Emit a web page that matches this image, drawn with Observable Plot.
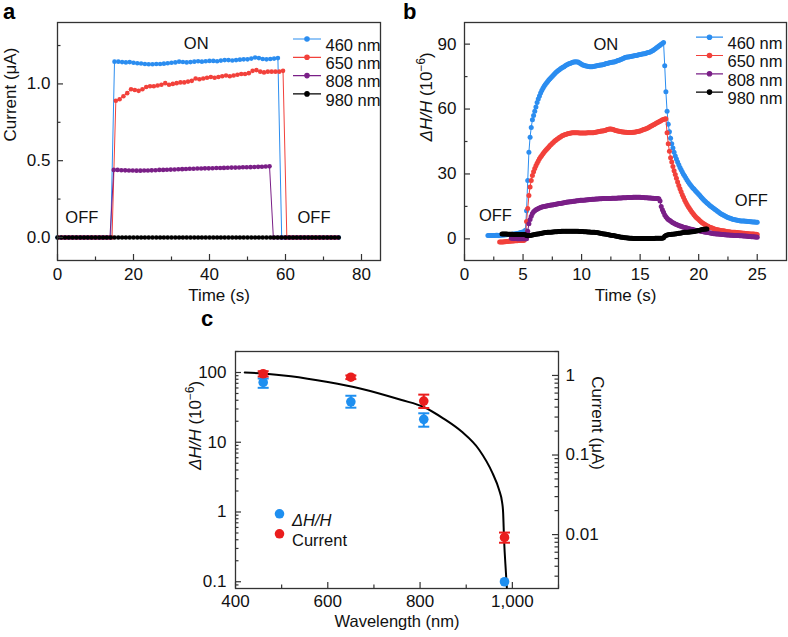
<!DOCTYPE html>
<html>
<head>
<meta charset="utf-8">
<script src="https://cdn.jsdelivr.net/npm/d3@7"></script>
<script src="https://cdn.jsdelivr.net/npm/@observablehq/plot@0.6"></script>
<style>
  body { margin: 0; background: #fff; }
  #root { position: relative; width: 788px; height: 637px; overflow: hidden; background: #fff;
          font-family: "Liberation Sans", Arial, Helvetica, sans-serif; color: #111; }
  .panel { position: absolute; }
  .panel svg { display: block; background: transparent !important; max-width: none !important; overflow: visible; }
  .letter { position: absolute; font-weight: bold; font-size: 22px; line-height: 22px; color: #000; }
</style>
</head>
<body>
<div id="root"></div>
<script>
// ======================= DATA =======================
const legendLabels = ["460 nm", "650 nm", "808 nm", "980 nm"];
const seriesColors = ["#2b8df0", "#f2413b", "#7a1f87", "#000000"];

// ---- Panel a: photocurrent vs time (1 s sampling) ----
const aTimeDomain = [0, 85];
const aCurrentDomain = [-0.15, 1.4];
const aXMajor = [0, 20, 40, 60, 80];
const aXMinor = [10, 30, 50, 70];
const aYMajor = [0, 0.5, 1.0];
const aYMinor = [0.25, 0.75, 1.25];
const aTimeStep = 1;
const aStartTimes = [0, 0.35, 0.8, 0];
const aCurrent460 = [
  0,0,0,0,0,0,0,0,0,0,0,0,0,0,0,
  1.145,1.145,1.142,1.14,1.142,1.138,1.135,1.133,1.13,1.128,
  1.128,1.13,1.13,1.132,1.135,1.138,1.14,1.145,1.143,1.14,
  1.142,1.145,1.148,1.145,1.148,1.15,1.15,1.148,1.152,1.155,
  1.155,1.153,1.155,1.158,1.16,1.16,1.165,1.172,1.168,1.162,
  1.16,1.162,1.165,1.168,
  0,0,0,0,0,0,0,0,0,0,0,0,0,0,0,0];
const aCurrent650 = [
  0,0,0,0,0,0,0,0,0,0,0,0,0,0,0,
  0.89,0.90,0.92,0.94,0.965,0.96,0.955,0.965,0.98,0.985,
  0.985,0.99,0.995,1.005,0.995,1.0,1.005,1.01,1.01,1.015,
  1.02,1.035,1.03,1.035,1.04,1.045,1.04,1.045,1.05,1.055,
  1.05,1.055,1.06,1.065,1.065,1.07,1.085,1.09,1.08,1.075,
  1.08,1.08,1.08,1.08,1.085,
  0,0,0,0,0,0,0,0,0,0,0,0,0,0];
const aCurrent808 = [
  0,0,0,0,0,0,0,0,0,0,0,0,0,0,
  0.44,0.44,0.438,0.437,0.436,0.436,0.435,0.435,0.436,0.436,
  0.437,0.438,0.44,0.44,0.441,0.442,0.443,0.444,0.445,0.446,
  0.448,0.448,0.449,0.449,0.45,0.45,0.451,0.452,0.452,0.453,
  0.454,0.455,0.455,0.456,0.457,0.457,0.458,0.459,0.46,0.461,
  0.462,0.463,
  0,0,0,0,0,0,0,0,0,0,0,0,0,0,0,0,0,0];
const aCurrent980 = [
  0,0,0,0,0,0,0,0,0,0,0,0,0,0,0,0,0,0,0,0,0,0,0,0,0,
  0,0,0,0,0,0,0,0,0,0,0,0,0,0,0,0,0,0,0,0,0,0,0,0,0,
  0,0,0,0,0,0,0,0,0,0,0,0,0,0,0,0,0,0,0,0,0,0,0,0,0];
const aNotes = [
  {label: "ON", t: 36.5, v: 1.26},
  {label: "OFF", t: 6.4, v: 0.128},
  {label: "OFF", t: 67.5, v: 0.128}
];

// ---- Panel b: ΔH/H vs time (0.1 s sampling) ----
const bTimeDomain = [0, 27.5];
const bSignalDomain = [-10, 100];
const bXMajor = [0, 5, 10, 15, 20, 25];
const bXMinor = [2.5, 7.5, 12.5, 17.5, 22.5];
const bYMajor = [0, 30, 60, 90];
const bYMinor = [15, 45, 75];
const bTimeStep = 0.1;
const bStartTimes = [2.0, 3.0, 4.0, 3.2];
const bSignal460 = [
  1.5,1.5,1.6,1.6,1.5,1.6,1.6,1.7,1.7,1.6,
  1.7,1.7,1.8,1.8,1.8,1.9,1.9,2.0,2.0,2.0,
  2.1,2.1,2.2,2.3,2.4,2.5,2.6,2.7,2.9,3.0,
  3.2,3.4,4,13,27,40,47,51.5,55,57,
  59,61,63,64.6,66,67.4,68.6,69.6,70.5,71.3,
  72,72.7,73.4,74,74.6,75.1,75.7,76.3,76.9,77.4,
  77.8,78.2,78.6,79,79.3,79.6,80,80.3,80.6,80.9,
  81.1,81.3,81.5,81.7,81.8,81.9,81.8,81.7,81.4,81,
  80.7,80.4,80.2,80,79.9,79.8,79.7,79.6,79.6,79.6,
  79.7,79.8,79.9,80,80.1,80.2,80.3,80.4,80.5,80.6,
  80.8,81,81.1,81.3,81.4,81.5,81.6,81.7,81.8,82,
  82.2,82.4,82.6,82.8,83,83.3,83.5,83.8,83.9,84,
  84.1,84.2,84.3,84.4,84.5,84.6,84.7,84.8,85,85.1,
  85.2,85.3,85.4,85.5,85.6,85.8,86,86.1,86.3,86.5,
  86.8,87.1,87.5,87.9,88.3,88.7,89.1,89.5,89.9,90.3,
  90.7,80,68,59,53,49.5,46.5,44,42,40,
  38.3,36.9,35.5,34.2,33,31.9,30.9,29.9,29,28.1,
  27.2,26.4,25.6,24.9,24.2,23.5,23,22.4,21.8,21.2,
  20.6,20,19.4,18.8,18.2,17.6,17.1,16.6,16.2,15.7,
  15.2,14.8,14.4,14,13.6,13.2,12.8,12.4,12,11.6,
  11.3,11,10.7,10.4,10.1,9.9,9.7,9.5,9.3,9.1,
  9,8.8,8.7,8.6,8.5,8.4,8.3,8.3,8.2,8.2,
  8.1,8.1,8,8,7.9,7.9,7.8,7.8,7.8,7.7,
  7.7];
const bSignal650 = [
  -1.5,-1.5,-1.4,-1.4,-1.3,-1.3,-1.2,-1.2,-1.1,-1.1,
  -1,-1,-1,-0.9,-0.9,-0.9,-0.8,-0.8,-0.8,-0.7,
  -0.7,-0.6,0,8,14,20,24,27,29.3,31,
  32.5,33.8,35,36,37,37.8,38.5,39.3,40,40.7,
  41.3,41.9,42.5,43.1,43.6,44.2,44.7,45.2,45.6,46,
  46.4,46.8,47.1,47.5,47.8,48,48.2,48.4,48.6,48.7,
  48.8,48.9,49,49,49,49,49,49,48.9,48.9,
  48.9,48.9,48.9,48.9,48.9,49,49,49,49,49.1,
  49.1,49.2,49.3,49.4,49.5,49.6,49.7,49.8,49.9,50,
  50.1,50.3,50.5,50.7,50.8,50.8,50.7,50.5,50.3,50.1,
  50,49.8,49.7,49.6,49.5,49.4,49.4,49.3,49.3,49.2,
  49.2,49.2,49.2,49.2,49.3,49.3,49.4,49.5,49.6,49.7,
  49.9,50.1,50.3,50.5,50.7,50.9,51.1,51.4,51.7,52,
  52.3,52.6,52.9,53.2,53.5,53.8,54.1,54.4,54.7,55,
  55.2,55.4,55.5,49,44,40.5,37.5,35.5,33.5,31.5,
  29.7,28,26.3,24.7,23.2,21.8,20.4,19.2,18,16.9,
  15.9,15,14.1,13.3,12.5,11.8,11.1,10.5,9.9,9.4,
  8.9,8.4,7.9,7.5,7.1,6.7,6.4,6.1,5.8,5.5,
  5.3,5.1,4.9,4.7,4.5,4.3,4.2,4.1,4,3.9,
  3.8,3.7,3.6,3.5,3.4,3.3,3.3,3.2,3.1,3.1,
  3,3,2.9,2.9,2.8,2.8,2.7,2.7,2.6,2.6,
  2.5,2.5,2.4,2.4,2.3,2.3,2.2,2.2,2.1,2.1,
  2];
const bSignal808 = [
  0.3,0.3,0.2,0.2,0.2,0.1,0.1,0.1,0,0,
  0,0,0,0,3.5,7,9,10.5,11.7,12.5,
  13,13.4,13.7,14,14.3,14.5,14.7,14.9,15,15.1,
  15.2,15.3,15.4,15.5,15.6,15.7,15.8,15.9,16,16.1,
  16.2,16.3,16.4,16.5,16.6,16.7,16.8,16.9,17,17,
  17.1,17.2,17.3,17.4,17.4,17.5,17.6,17.6,17.7,17.8,
  17.8,17.9,17.9,18,18,18.1,18.1,18.2,18.2,18.3,
  18.3,18.3,18.4,18.4,18.4,18.5,18.5,18.5,18.6,18.6,
  18.6,18.6,18.7,18.7,18.7,18.7,18.8,18.8,18.8,18.8,
  18.8,18.9,18.9,18.9,18.9,19,19,19,19,19.1,
  19.1,19.1,19.1,19.1,19.2,19.2,19.2,19.2,19.2,19.2,
  19.2,19.1,19.1,19.1,19,19,19,18.9,18.9,18.9,
  18.8,18.8,18.7,18.7,18.6,18.6,18.5,17.5,15,13.5,
  12.3,11,10.2,9.5,9,8.6,8.2,7.8,7.5,7.2,
  6.9,6.6,6.4,6.2,6,5.8,5.6,5.4,5.3,5.1,
  5,4.8,4.7,4.5,4.4,4.3,4.1,4,3.9,3.8,
  3.7,3.6,3.5,3.4,3.3,3.2,3.1,3,2.9,2.8,
  2.7,2.6,2.5,2.4,2.4,2.3,2.2,2.2,2.1,2.1,
  2,2,1.9,1.9,1.8,1.8,1.8,1.7,1.7,1.7,
  1.6,1.6,1.5,1.5,1.5,1.4,1.4,1.4,1.3,1.3,
  1.3,1.2,1.2,1.1,1.1,1,1,1,0.9,0.9,
  0.8];
const bSignal980 = [
  2.3,2.3,2.2,2.2,2.2,2.1,2.1,2.1,
  2.1,2.1,2,2,2,2,2,2,2,2,
  2,2,1.9,1.6,1.4,1.5,1.6,1.7,1.8,1.9,
  2,2.1,2.2,2.3,2.4,2.5,2.6,2.7,2.8,2.9,
  2.9,3,3,3.1,3.1,3.2,3.2,3.3,3.3,3.3,
  3.4,3.4,3.4,3.5,3.5,3.5,3.5,3.5,3.5,3.5,
  3.5,3.5,3.5,3.5,3.5,3.5,3.5,3.5,3.4,3.4,
  3.4,3.4,3.3,3.3,3.3,3.2,3.2,3.2,3.1,3.1,
  3,3,2.9,2.9,2.8,2.7,2.6,2.5,2.4,2.3,
  2.2,2.1,2,1.9,1.8,1.7,1.6,1.5,1.4,1.3,
  1.2,1.1,1,0.9,0.8,0.7,0.6,0.5,0.5,0.4,
  0.4,0.3,0.3,0.3,0.2,0.2,0.2,0.2,0.2,0.2,
  0.2,0.2,0.2,0.2,0.2,0.2,0.2,0.2,0.2,0.2,
  0.2,0.2,0.2,0.3,0.3,0.3,0.3,0.3,0.3,0.3,
  0.5,1.2,1.6,1.8,1.9,2,2,2.1,2.1,2.2,
  2.3,2.4,2.5,2.6,2.6,2.7,2.8,2.9,3,3,
  3.1,3.1,3.2,3.2,3.3,3.3,3.4,3.5,3.6,3.8,
  3.9,4,4.2,4.3,4.4,4.5,4.6,4.6];
const bNotes = [
  {label: "ON", t: 12.07, v: 89.5},
  {label: "OFF", t: 2.64, v: 10.75},
  {label: "OFF", t: 24.5, v: 17.7}
];

// ---- Panel c: wavelength dependence ----
const cWavelengthDomain = [400, 1100];
const cLeftDomain = [0.08, 200];
const cRightDomain = [0.0021, 2.0];
const cXMajor = [400, 600, 800, 1000];
const cXMinor = [500, 700, 900, 1100];
const cLeftMajor = [0.1, 1, 10, 100];
const cLeftMinor = [0.09, 0.2, 0.3, 0.4, 0.5, 0.6, 0.7, 0.8, 0.9, 2, 3, 4, 5, 6, 7, 8, 9,
                    20, 30, 40, 50, 60, 70, 80, 90, 200];
const cRightMajor = [0.01, 0.1, 1];
const cRightMinor = [0.003, 0.004, 0.005, 0.006, 0.007, 0.008, 0.009,
                     0.02, 0.03, 0.04, 0.05, 0.06, 0.07, 0.08, 0.09,
                     0.2, 0.3, 0.4, 0.5, 0.6, 0.7, 0.8, 0.9, 2];
const cWavelength = [460, 650, 808, 983];
const cDeltaH = [72, 38, 21.3, 0.1];
const cDeltaHLow = [60.3, 31.3, 16.7, 0.1];
const cDeltaHHigh = [82, 46.4, 26, 0.1];
const cCurrent = [1.05, 0.95, 0.477, 0.0092];
const cCurrentLow = [0.97, 0.9, 0.39, 0.0079];
const cCurrentHigh = [1.13, 1.0, 0.574, 0.0106];
const fitWavelength = [420, 460, 520, 600, 670, 760, 808, 850, 890, 928, 957, 971, 978, 980, 982, 986, 988];
const fitDeltaH = [100, 97, 88.5, 73, 59, 40.3, 32, 22, 14.2, 7.8, 3.6, 2.1, 1.35, 0.98, 0.41, 0.137, 0.083];
const cLegend = ["ΔH/H", "Current"];
const cColors = ["#1e8ff0", "#ea1d1d"];

// ======================= HELPERS =======================
const FONT = '"Liberation Sans", Arial, Helvetica, sans-serif';
const AXIS = "#333";
const INK = "#111";
const TICK_FS = 17, TITLE_FS = 17, NOTE_FS = 16.5;
const root = document.getElementById("root");

function baseStyle() {
  return {fontFamily: FONT, fontSize: "17px", background: "transparent", overflow: "visible", color: INK};
}
function rowsFrom(t0, dt, values) {
  return values.map((v, i) => ({t: +(t0 + i * dt).toFixed(3), v}));
}
function xTicks(values, len, innerH) {
  return Plot.ruleX(values, {x: d => d, insetTop: innerH - len, stroke: AXIS, strokeWidth: 1.2});
}
function yTicks(values, len, innerW, side = "left") {
  return Plot.ruleY(values, side === "left"
    ? {y: d => d, insetRight: innerW - len, stroke: AXIS, strokeWidth: 1.2}
    : {y: d => d, insetLeft: innerW - len, stroke: AXIS, strokeWidth: 1.2});
}
function xLabels(values, fmt, dy) {
  return Plot.text(values, {x: d => d, frameAnchor: "bottom", lineAnchor: "top", dy, text: d => fmt(d), fontSize: TICK_FS, fill: INK});
}
function yLabels(values, fmt, dx, side = "left") {
  return Plot.text(values, {y: d => d, frameAnchor: side, dx, textAnchor: side === "left" ? "end" : "start",
                            text: d => fmt(d), fontSize: TICK_FS, fill: INK});
}
function title(str, anchor, opts) {
  return Plot.text([str], {frameAnchor: anchor, text: d => d, fontSize: TITLE_FS, fill: INK, ...opts});
}
function lineDotSymbol(half) {
  return {draw(ctx, size) {
    const r = Math.sqrt(size / Math.PI);
    ctx.moveTo(-half, 0); ctx.lineTo(half, 0);
    ctx.moveTo(r, 0); ctx.arc(0, 0, r, 0, 2 * Math.PI);
  }};
}
const capSymbol = {draw(ctx, size) {
  const r = Math.sqrt(size / Math.PI);
  ctx.moveTo(-r, 0); ctx.lineTo(r, 0);
}};
function lineLegend(labels, colors, {dotDx, textDx, dy0, step, half}) {
  return labels.flatMap((lab, i) => [
    Plot.dot([lab], {frameAnchor: "top-right", dx: dotDx, dy: dy0 + i * step, symbol: lineDotSymbol(half),
                     r: 2.2, fill: colors[i], stroke: colors[i], strokeWidth: 1.2}),
    Plot.text([lab], {frameAnchor: "top-right", dx: textDx, dy: dy0 + i * step, text: d => d,
                      textAnchor: "start", fontSize: NOTE_FS, fill: INK})
  ]);
}
function seriesMarks(seriesRows, r) {
  return seriesRows.flatMap((rows, k) => [
    Plot.line(rows, {x: "t", y: "v", stroke: seriesColors[k], strokeWidth: 1}),
    Plot.dot(rows, {x: "t", y: "v", r, fill: seriesColors[k]})
  ]);
}
function place(svg, left, top, w, h) {
  const div = document.createElement("div");
  div.className = "panel";
  Object.assign(div.style, {left: left + "px", top: top + "px", width: w + "px", height: h + "px"});
  svg.style.background = "transparent";
  div.appendChild(svg);
  root.appendChild(div);
}
function richText(svg, placeholder, parts) {
  d3.select(svg).selectAll("text").filter(function () { return this.textContent === placeholder; })
    .each(function () {
      const t = d3.select(this);
      t.text(null);
      for (const p of parts) {
        const s = t.append("tspan").text(p.text);
        if (p.italic) s.attr("font-style", "italic");
        if (p.sup) s.attr("baseline-shift", "super").attr("font-size", "70%");
      }
    });
}
function letter(ch, left, top) {
  const d = document.createElement("div");
  d.className = "letter"; d.textContent = ch;
  d.style.left = left + "px"; d.style.top = top + "px";
  root.appendChild(d);
}
const DH_PLACEHOLDER = "ΔH/H (10^-6)";
const DH_PARTS = [{text: "ΔH/H", italic: true}, {text: " (10"}, {text: "−6", sup: true}, {text: ")"}];

// ======================= PANEL a =======================
{
  const W = 395, H = 310, M = {l: 57, r: 15, t: 22, b: 50};
  const iw = W - M.l - M.r, ih = H - M.t - M.b;
  const series = [aCurrent460, aCurrent650, aCurrent808, aCurrent980]
    .map((vals, k) => rowsFrom(aStartTimes[k], aTimeStep, vals));
  const svg = Plot.plot({
    width: W, height: H, marginLeft: M.l, marginRight: M.r, marginTop: M.t, marginBottom: M.b,
    x: {domain: aTimeDomain, axis: null},
    y: {domain: aCurrentDomain, axis: null},
    style: baseStyle(),
    marks: [
      ...seriesMarks(series, 2.3),
      xTicks(aXMajor, 6, ih), xTicks(aXMinor, 3.5, ih),
      yTicks(aYMajor, 6, iw), yTicks(aYMinor, 3.5, iw),
      Plot.frame({stroke: AXIS, strokeWidth: 1.3}),
      xLabels(aXMajor, d3.format("d"), 7),
      yLabels(aYMajor, d3.format(".1f"), -7),
      Plot.text(aNotes, {x: "t", y: "v", text: "label", fontSize: NOTE_FS, fill: INK}),
      ...lineLegend(legendLabels, seriesColors, {dotDx: -73.5, textDx: -55, dy0: 16.5, step: 18.3, half: 14}),
      title("Time (s)", "bottom", {dy: 40}),
      title("Current (μA)", "left", {dx: -47, rotate: -90})
    ]
  });
  place(svg, 0, 0, W, H);
}

// ======================= PANEL b =======================
{
  const W = 388, H = 310, M = {l: 64, r: 2, t: 22, b: 50};
  const iw = W - M.l - M.r, ih = H - M.t - M.b;
  const series = [bSignal460, bSignal650, bSignal808, bSignal980]
    .map((vals, k) => rowsFrom(bStartTimes[k], bTimeStep, vals));
  const svg = Plot.plot({
    width: W, height: H, marginLeft: M.l, marginRight: M.r, marginTop: M.t, marginBottom: M.b,
    x: {domain: bTimeDomain, axis: null},
    y: {domain: bSignalDomain, axis: null},
    style: baseStyle(),
    marks: [
      ...seriesMarks(series, 2.5),
      xTicks(bXMajor, 6, ih), xTicks(bXMinor, 3.5, ih),
      yTicks(bYMajor, 6, iw), yTicks(bYMinor, 3.5, iw),
      Plot.frame({stroke: AXIS, strokeWidth: 1.3}),
      xLabels(bXMajor, d3.format("d"), 7),
      yLabels(bYMajor, d3.format("d"), -8),
      Plot.text(bNotes, {x: "t", y: "v", text: "label", fontSize: NOTE_FS, fill: INK}),
      ...lineLegend(legendLabels, seriesColors, {dotDx: -77, textDx: -59, dy0: 14.7, step: 18.3, half: 13.5}),
      title("Time (s)", "bottom", {dy: 40}),
      title(DH_PLACEHOLDER, "left", {dx: -38, rotate: -90})
    ]
  });
  richText(svg, DH_PLACEHOLDER, DH_PARTS);
  place(svg, 400, 0, W, H);
}

// ======================= PANEL c =======================
{
  const W = 480, H = 317, M = {l: 85, r: 72, t: 31, b: 49};
  const iw = W - M.l - M.r, ih = H - M.t - M.b;
  const fit = fitWavelength.map((w, i) => ({w, v: fitDeltaH[i]}));
  const dh = cWavelength.map((w, i) => ({w, v: cDeltaH[i], lo: cDeltaHLow[i], hi: cDeltaHHigh[i]}));
  const cur = cWavelength.map((w, i) => ({w, v: cCurrent[i], lo: cCurrentLow[i], hi: cCurrentHigh[i]}));
  const common = {
    width: W, height: H, marginLeft: M.l, marginRight: M.r, marginTop: M.t, marginBottom: M.b,
    x: {domain: cWavelengthDomain, axis: null},
    style: baseStyle()
  };
  const errMarks = (rows, color) => [
    Plot.ruleX(rows.filter(d => d.hi > d.lo), {x: "w", y1: "lo", y2: "hi", stroke: color, strokeWidth: 2}),
    Plot.dot(rows.filter(d => d.hi > d.lo), {x: "w", y: "lo", symbol: capSymbol, r: 5.5, stroke: color, strokeWidth: 2}),
    Plot.dot(rows.filter(d => d.hi > d.lo), {x: "w", y: "hi", symbol: capSymbol, r: 5.5, stroke: color, strokeWidth: 2}),
    Plot.dot(rows, {x: "w", y: "v", r: 4.8, fill: color})
  ];
  const left = Plot.plot({
    ...common,
    y: {type: "log", domain: cLeftDomain, axis: null},
    marks: [
      xTicks(cXMajor, 6, ih), xTicks(cXMinor, 3.5, ih),
      yTicks(cLeftMajor, 6, iw), yTicks(cLeftMinor, 3.5, iw),
      Plot.frame({stroke: AXIS, strokeWidth: 1.3}),
      Plot.line(fit, {x: "w", y: "v", stroke: "#000", strokeWidth: 2, curve: "monotone-x"}),
      ...errMarks(dh, cColors[0]),
      xLabels(cXMajor, d3.format(","), 6),
      yLabels(cLeftMajor, d3.format("~g"), -9),
      Plot.dot([cLegend[0]], {frameAnchor: "top-left", dx: 44, dy: 162.3, r: 4.8, fill: cColors[0]}),
      Plot.dot([cLegend[1]], {frameAnchor: "top-left", dx: 44, dy: 182.3, r: 4.8, fill: cColors[1]}),
      Plot.text([cLegend[0]], {frameAnchor: "top-left", dx: 56.5, dy: 162.3, text: d => d, textAnchor: "start",
                               fontSize: NOTE_FS, fontStyle: "italic", fill: INK}),
      Plot.text([cLegend[1]], {frameAnchor: "top-left", dx: 56.5, dy: 182.3, text: d => d, textAnchor: "start",
                               fontSize: NOTE_FS, fill: INK}),
      title("Wavelength (nm)", "bottom", {dy: 38, fontSize: 16.5}),
      title(DH_PLACEHOLDER, "left", {dx: -40, rotate: -90})
    ]
  });
  richText(left, DH_PLACEHOLDER, DH_PARTS);
  place(left, 150, 320, W, H);

  const right = Plot.plot({
    ...common,
    y: {type: "log", domain: cRightDomain, axis: null},
    marks: [
      yTicks(cRightMajor, 6, iw, "right"), yTicks(cRightMinor, 3.5, iw, "right"),
      ...errMarks(cur, cColors[1]),
      yLabels(cRightMajor, d3.format("~g"), 7, "right"),
      title("Current (μA)", "right", {dx: 39, rotate: 90})
    ]
  });
  place(right, 150, 320, W, H);
}

letter("a", 3, 1);
letter("b", 403, 1);
letter("c", 201, 308);
</script>
</body>
</html>
